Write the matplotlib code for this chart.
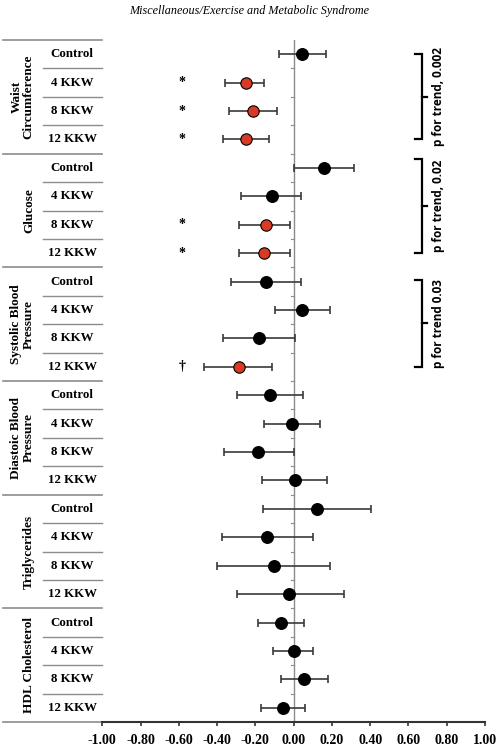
import numpy as np
import matplotlib.pyplot as plt

# datos
grupos = ["Waist\nCircumference", "Glucose", "Systolic Blood\nPressure",
          "Diastoic Blood\nPressure", "Triglycerides", "HDL Cholesterol"]
brazos = ["Control", "4 KKW", "8 KKW", "12 KKW"]

estimado = [0.043, -0.25, -0.21, -0.25,
            0.156, -0.114, -0.147, -0.153,
            -0.144, 0.046, -0.179, -0.288,
            -0.123, -0.007, -0.184, 0.005,
            0.121, -0.137, -0.102, -0.022,
            -0.065, 0.0, 0.055, -0.058]
inferior = [-0.074, -0.36, -0.34, -0.37,
            0.0, -0.273, -0.283, -0.288,
            -0.325, -0.10, -0.37, -0.47,
            -0.297, -0.154, -0.363, -0.166,
            -0.161, -0.376, -0.40, -0.296,
            -0.184, -0.106, -0.067, -0.17]
superior = [0.17, -0.153, -0.088, -0.127,
            0.313, 0.037, -0.017, -0.021,
            0.039, 0.19, 0.009, -0.112,
            0.051, 0.139, 0.001, 0.175,
            0.404, 0.10, 0.19, 0.261,
            0.055, 0.10, 0.182, 0.06]
marca = ["", "*", "*", "*", "", "", "*", "*", "", "", "", "\u2020",
         "", "", "", "", "", "", "", "", "", "", "", ""]
significativo = [False, True, True, True, False, False, True, True, False, False, False, True,
                 False, False, False, False, False, False, False, False, False, False, False, False]

tendencias = ["p for trend, 0.002", "p for trend, 0.02", "p for trend 0.03"]
rango_tendencia = [(0.0, 3.0), (3.7, 7.0), (7.95, 11.0)]

tick_vals = np.arange(-1.0, 1.01, 0.2)
tick_labels = ["%.2f" % v if abs(v) > 1e-9 else "0.00" for v in tick_vals]

serif = "Liberation Serif"
gris = "#8c8c8c"

fig = plt.figure(figsize=(4.99, 7.5), dpi=100)
ax = fig.add_axes([102.3 / 499, 28 / 750, (485 - 102.3) / 499, (722 - 40) / 750])

n = len(estimado)
filas = np.arange(n)
est = np.array(estimado)
err = np.vstack([est - np.array(inferior), np.array(superior) - est])

ax.axvline(0, color=gris, lw=1.0, zorder=1)
for b in np.arange(0.5, n - 0.5, 1.0):
    ax.plot([-0.016, 0], [b, b], color=gris, lw=0.8, zorder=1)

ax.errorbar(est, filas, xerr=err, fmt="none", ecolor="#3a3a3a", elinewidth=1.2,
            capsize=3, capthick=1.2, zorder=2)
colores = ["#d93a24" if s else "black" for s in significativo]
for i in range(n):
    ax.plot(est[i], filas[i], "o", ms=8.5 if not significativo[i] else 8.2,
            mfc=colores[i], mec="black", mew=0.8, zorder=3)
    if marca[i]:
        ax.text(-0.584, filas[i], marca[i], ha="center", va="center",
                fontsize=10, fontweight="bold", family=serif)

# tabla de etiquetas a la izquierda
for g, nombre in enumerate(grupos):
    centro = g * 4 + 1.5
    xg = -1.418 if "\n" in nombre else -1.382
    ax.text(xg, centro, nombre, rotation=90, ha="center", va="center",
            fontsize=9.5, fontweight="bold", family=serif, linespacing=1.0, clip_on=False)
    for j, brazo in enumerate(brazos):
        ax.text(-1.157, g * 4 + j, brazo, ha="center", va="center",
                fontsize=9.3, fontweight="bold", family=serif, clip_on=False)
    for j in range(1, 4):
        ax.plot([-1.309, -1.0], [g * 4 + j - 0.5] * 2, color=gris, lw=1.0, clip_on=False)
    ax.plot([-1.517, -1.0], [g * 4 - 0.5] * 2, color=gris, lw=1.2, clip_on=False)
ax.plot([-1.517, -1.0], [n - 0.5] * 2, color=gris, lw=1.2, clip_on=False)

# llaves de tendencia
for texto, (a, b) in zip(tendencias, rango_tendencia):
    ax.plot([0.636, 0.671, 0.671, 0.636], [a, a, b, b], color="black", lw=1.6,
            solid_joinstyle="miter")
    m = (a + b) / 2
    ax.plot([0.671, 0.695], [m, m], color="black", lw=1.6)
    ax.text(0.758, m, texto, rotation=90, ha="center", va="center",
            fontsize=8.5, fontweight="bold", family="Open Sans")

ax.set_xlim(-1.0, 1.0)
ax.set_ylim(n - 0.5, -0.5)
ax.set_yticks([])
ax.set_xticks(tick_vals)
ax.set_xticklabels(tick_labels, fontsize=10, fontweight="bold", family=serif)
ax.tick_params(axis="x", length=3, width=1.2, pad=6, color="#333333")
for s in ["left", "right", "top"]:
    ax.spines[s].set_visible(False)
ax.spines["bottom"].set_linewidth(1.5)
ax.spines["bottom"].set_color("#333333")

fig.text(0.5, 1 - 11 / 750, "Miscellaneous/Exercise and Metabolic Syndrome",
         ha="center", va="center", fontsize=8.7, style="italic", family=serif)

fig.savefig("out.png", dpi=100)
